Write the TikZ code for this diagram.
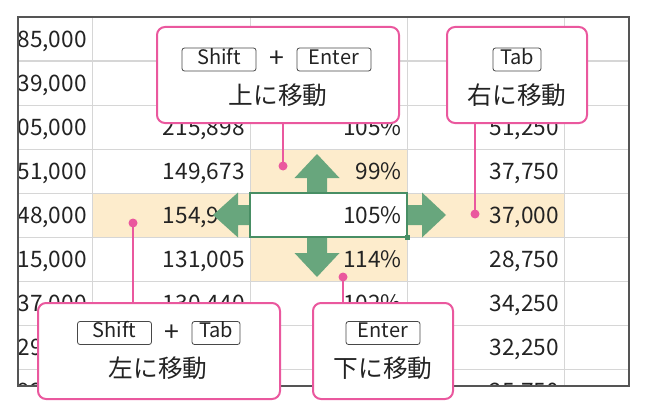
\documentclass[tikz,border=0pt]{standalone}
\usepackage{fontspec}
\setmainfont{Noto Sans CJK JP}
\newdimen\pxu \pxu=0.75pt
\definecolor{cpink}{RGB}{234,88,158}
\definecolor{agreen}{RGB}{104,166,125}
\definecolor{selgreen}{RGB}{72,142,100}
\definecolor{hl}{RGB}{253,236,204}
\definecolor{gridc}{RGB}{214,214,214}
\definecolor{framec}{RGB}{85,85,85}
\definecolor{txt}{RGB}{35,35,35}
\begin{document}
\begin{tikzpicture}[x=0.75pt,y=-0.75pt,
  cell/.style={anchor=base east, inner sep=0pt, font=\fontsize{17}{20}\selectfont, text=txt},
  callout/.style={draw=cpink, line width=1.5pt, fill=white, rounded corners=8\pxu, minimum height=96\pxu, inner sep=0pt},
  keycap/.style={draw=black!72, line width=0.6pt, rounded corners=2.5\pxu, minimum height=23\pxu, inner sep=0pt, font=\fontsize{15}{17}\selectfont, text=txt, text height=0.72em, text depth=0pt},
  widekey/.style={keycap, minimum width=74\pxu},
  narrowkey/.style={keycap, minimum width=48\pxu},
  plussign/.style={inner sep=0pt, font=\fontsize{20}{22}\selectfont, text=txt},
  jptext/.style={inner sep=0pt, font=\fontsize{18.5}{22}\selectfont, text=txt},
  lead/.style={draw=cpink, line width=1.5pt},
  leaddot/.style={circle, fill=cpink, inner sep=0pt, minimum size=9\pxu},
  bigarrow/.style={fill=agreen}]
\useasboundingbox (0,0) rectangle (648,410);

% ---------- spreadsheet ----------
\begin{scope}
  \clip (18,17) rectangle (629,386);
  \fill[hl] (92,193) rectangle (564,237);
  \fill[hl] (250,149) rectangle (407,281);
  \fill[white] (250,193) rectangle (407,237);
  \foreach \y in {61,105,149,193,237,281,325,369}
    \draw[gridc, line width=0.75pt] (18,\y) -- (629,\y);
  \foreach \x in {92,250,407,564}
    \draw[gridc, line width=0.75pt] (\x,17) -- (\x,386);
  % column 1
  \foreach \v [count=\r] in {85{,}000,39{,}000,05{,}000,51{,}000,48{,}000,15{,}000,37{,}000,29{,}000,93{,}000}
    \node[cell] (a\r) at (87,{39+44*(\r-1)+8}) {\v};
  % column 2
  \node[cell] (b3) at (245,{39+88+8}) {215,898};
  \node[cell] (b4) at (245,{39+132+8}) {149,673};
  \node[cell] (b5) at (245,{39+176+8}) {154,980};
  \node[cell] (b6) at (245,{39+220+8}) {131,005};
  \node[cell] (b7) at (245,{39+264+8}) {130,440};
  % column 3
  \node[cell] (c1) at (402,{39+8}) {101\%};
  \node[cell] (c2) at (402,{39+44+8}) {98\%};
  \node[cell] (c3) at (402,{39+88+8}) {105\%};
  \node[cell] (c4) at (402,{39+132+8}) {99\%};
  \node[cell] (c5) at (402,{39+176+8}) {105\%};
  \node[cell] (c6) at (402,{39+220+8}) {114\%};
  \node[cell] (c7) at (402,{39+264+8}) {102\%};
  % column 4
  \node[cell] (d3) at (559,{39+88+8}) {51,250};
  \node[cell] (d4) at (559,{39+132+8}) {37,750};
  \node[cell] (d5) at (559,{39+176+8}) {37,000};
  \node[cell] (d6) at (559,{39+220+8}) {28,750};
  \node[cell] (d7) at (559,{39+264+8}) {34,250};
  \node[cell] (d8) at (559,{39+308+8}) {32,250};
  \node[cell] (d9) at (559,{39+352+8}) {25,750};
\end{scope}
\draw[framec, line width=1.1pt] (18,17) rectangle (629,386);

% ---------- movement arrows ----------
% up
\fill[bigarrow] (307,193) -- (307,178) -- (294.5,178) -- (317,154) -- (339.5,178) -- (327,178) -- (327,193) -- cycle;
% down
\fill[bigarrow] (307,237) -- (307,253) -- (294.5,253) -- (317,277) -- (339.5,253) -- (327,253) -- (327,237) -- cycle;
% left
\fill[bigarrow] (250,205) -- (238,205) -- (238,192.5) -- (213,215) -- (238,237.5) -- (238,225) -- (250,225) -- cycle;
% right
\fill[bigarrow] (407,205) -- (422,205) -- (422,192.5) -- (446,215) -- (422,237.5) -- (422,225) -- (407,225) -- cycle;
% selected cell
\draw[selgreen, line width=1pt] (250,193) rectangle (407,237);
\fill[selgreen] (404.5,234.5) rectangle (409.5,239.5);

% ---------- leader dots ----------
\node[leaddot] (p1) at (283,166) {};
\node[leaddot] (p2) at (475,214) {};
\node[leaddot] (p3) at (133,223) {};
\node[leaddot] (p4) at (343,277) {};

% ---------- callouts ----------
\node[callout, minimum width=242\pxu] (up) at (278,75) {};
\node[widekey] (upk1) at (219,59.5) {Shift};
\node[plussign] (upplus) at (277,59.5) {+};
\node[widekey] (upk2) at (334,59.5) {Enter};
\node[jptext] (uptxt) at (278,95) {上に移動};

\node[callout, minimum width=140\pxu] (right) at (517,75) {};
\node[narrowkey] (rightk) at (517,59.5) {Tab};
\node[jptext] (righttxt) at (517,95) {右に移動};

\node[callout, minimum width=242\pxu] (left) at (159,351) {};
\node[widekey] (leftk1) at (114.5,333) {Shift};
\node[plussign] (leftplus) at (172,333) {+};
\node[narrowkey] (leftk2) at (216,333) {Tab};
\node[jptext] (lefttxt) at (158,368) {左に移動};

\node[callout, minimum width=140\pxu] (down) at (383,351) {};
\node[widekey] (downk) at (383,333) {Enter};
\node[jptext] (downtxt) at (383,368) {下に移動};

% ---------- leaders ----------
\draw[lead] (up.south -| p1) -- (p1.center);
\draw[lead] (right.south -| p2) -- (p2.center);
\draw[lead] (left.north -| p3) -- (p3.center);
\draw[lead] (down.north -| p4) -- (p4.center);
\end{tikzpicture}
\end{document}
